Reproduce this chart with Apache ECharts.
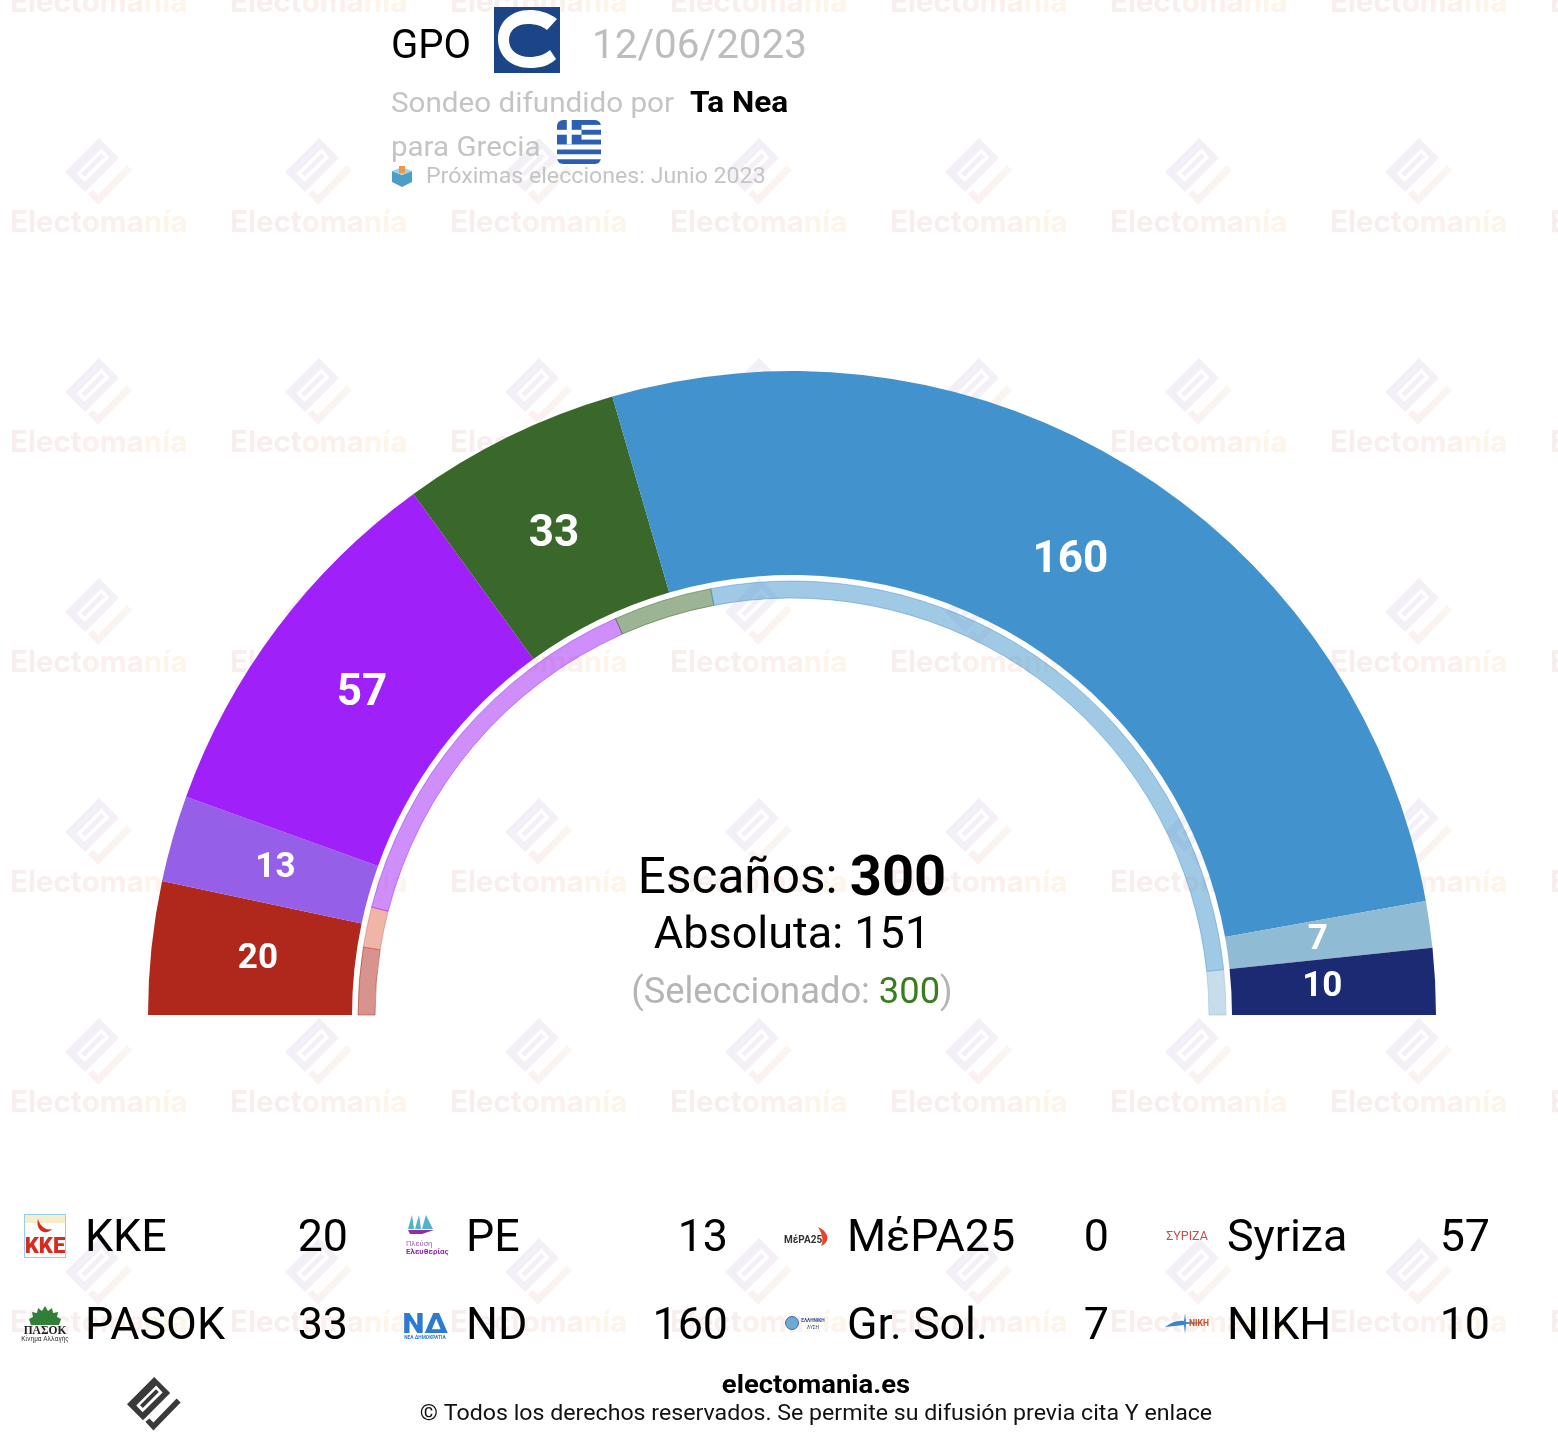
<!DOCTYPE html>
<html><head><meta charset="utf-8">
<style>html,body{margin:0;padding:0;background:#fff}#c{width:1558px;height:1456px}</style>
<script src="https://cdn.jsdelivr.net/npm/echarts@6/dist/echarts.min.js"></script>
</head><body><div id="c"></div>
<script>
// ---- data ----
const parties = ['KKE','PE','MέPA25','Syriza','PASOK','ND','Gr. Sol.','NIKH'];
const seats   = [20,13,0,57,33,160,7,10];
const previousSeats = [15,0,9,86,22,158,10,0];
const colors  = ['#B0281C','#965FE8','#DE6B52','#9F20F8','#3A672A','#4293CD','#90BBD4','#1B2A73'];
const totalSeats = 300, majority = 151, selected = 300;
const pollster = 'GPO', pollDate = '12/06/2023', outlet = 'Ta Nea', country = 'Grecia', nextElection = 'Próximas elecciones: Junio 2023';

const FONT = 'Roboto';
const CX = 792, CY = 1015;

// small path shape for logos
echarts.graphic.registerShape('logoPath', echarts.graphic.extendShape({
  shape:{d:''},
  buildPath(ctx,shape){
    const t = shape.d.match(/[MLCZ]|-?[\d.]+/g); let i=0;
    const n=()=>parseFloat(t[i++]); let cmd='';
    while(i<t.length){
      if(/[MLCZ]/.test(t[i])) cmd=t[i++];
      if(cmd==='M'){ctx.moveTo(n(),n());cmd='L';}
      else if(cmd==='L'){ctx.lineTo(n(),n());}
      else if(cmd==='C'){ctx.bezierCurveTo(n(),n(),n(),n(),n(),n());}
      else if(cmd==='Z'){ctx.closePath();}
    }
  }
}));

const el = [];
const T = (x,y,text,size,fill,o={}) => el.push({type:'text',x,y:y+size*0.09,scaleX:o.sx||1,z:5,silent:true,style:{text,fill,font:`${o.weight||400} ${size}px ${o.family||FONT}`,textAlign:o.align||'left',textVerticalAlign:'middle'}});
const P = (d,fill,x=0,y=0,s=1,z=5) => el.push({type:'logoPath',x,y,scaleX:s,scaleY:s,z,silent:true,shape:{d},style:{fill}});
const R = (x,y,w,h,fill,r=0,z=5) => el.push({type:'rect',z,silent:true,shape:{x,y,width:w,height:h,r},style:{fill}});

// watermark tiles (period 220 px)
const markA = 'M34,0 L54,20 L20,54 L0,34 Z M11.5,35.5 L19.5,44 L44.5,19.5 L36.5,10.5 Z M16.2,35.2 L36.2,15.2 L39.8,18.8 L19.8,38.8 Z';
const markB = 'M62,27 L67,32 L33,67 L23,56 L28,52 L33,57 Z';
const wmA = {type:'linear',x:0,y:0,x2:1,y2:1,colorStops:[{offset:0,color:'#f1eef8'},{offset:1,color:'#f6f1f5'}]};
const wmB = {type:'linear',x:1,y:0,x2:0,y2:1,colorStops:[{offset:0,color:'#faf6f0'},{offset:1,color:'#fbf1f0'}]};
const wmF = '700 29.5px Inter';
for (let c=0;c<8;c++) for (let r=0;r<7;r++){
  const x = 10+220*c, y = 3+220*r;
  el.push({type:'text',x,y,z:0,silent:true,style:{text:'{a|Elect}{b|oma}{c|nía}',textAlign:'left',textVerticalAlign:'middle',
    rich:{a:{font:wmF,fill:'#f9eeee'},b:{font:wmF,fill:'#fbf0ec'},c:{font:wmF,fill:'#fdf4ea'}}}});
  P(markA,wmA,x+55,y-85,1,0); P(markB,wmB,x+55,y-85,1,0);
}

// header
T(391,44,pollster,40,'#000');
R(494,7,66,66,'#1C4587');
P('M557,19 C548,12 538,10 530,10 C510,10 498,23 498,39 C498,56 511,68 530,68 C540,68 549,66 556,59 L550,50 C544,55 537,57 530,57 C517,57 509,50 509,40 C509,30 517,24 528,24 C536,24 542,26 547,30 Z','#fff');
T(592,44,pollDate,40,'#bdbdbd',{sx:1.01});
T(391,102,'Sondeo difundido por',28.5,'#c4c4c4',{sx:1.04});
T(690,102,outlet,29.5,'#000',{weight:700,sx:1.07});
T(391,146,'para '+country,28.5,'#c4c4c4',{sx:1.035});
// flag
R(557,120,44,44,'#2B5FB3',6);
[124.9,134.7].forEach(y=>R(581.5,y,19.5,4.9,'#fff'));
[144.5,154.3].forEach(y=>R(557,y,44,4.9,'#fff'));
R(557,129.8,24.5,4.9,'#fff'); R(566.8,120,4.9,24.5,'#fff');
// ballot box
P('M392,171 L402,175 L412,171 L412,182 L402,187 L392,182 Z','#4F9CC4');
P('M392,171 L402,167 L412,171 L402,175 Z','#9BD3E8');
R(399,166,6,7,'#E89A4A');
T(426,176,nextElection,22,'#c4c4c4',{sx:1.053});

// centre
el.push({type:'text',x:CX,y:881,z:5,silent:true,style:{text:'{a|Escaños: }{b|'+totalSeats+'}',textAlign:'center',textVerticalAlign:'middle',rich:{a:{font:`400 49.5px ${FONT}`,fill:'#000'},b:{font:`700 56px ${FONT}`,fill:'#000'}}}});
T(CX,933,'Absoluta: '+majority,45,'#000',{align:'center'});
el.push({type:'text',x:CX,y:994,z:5,silent:true,style:{text:'{a|(Seleccionado: }{b|'+selected+'}{a|)}',textAlign:'center',textVerticalAlign:'middle',rich:{a:{font:`400 36.3px ${FONT}`,fill:'#b5b5b5'},b:{font:`400 36.3px ${FONT}`,fill:'#3a7d1e'}}}});

// legend
const colX = [85,466,847,1227], valX = [348,728,1109,1490], rowY = [1236,1324];
parties.forEach((p,i)=>{
  const c=i%4, r=Math.floor(i/4);
  T(colX[c],rowY[r],p,44.8,'#000');
  T(valX[c],rowY[r],String(seats[i]),44.8,'#000',{align:'right'});
});
// legend logos
R(24,1214,42,44,'#8fd0f0'); R(25,1215,40,42,'#fff'); R(25,1215,40,8,'#f9ecc8');
T(45,1246,'KKE',22,'#D62B1F',{weight:900,align:'center'});
P('M38,1219 C35,1231 46,1236 52,1229 C46,1231 40,1226 38,1219 Z','#D62B1F');

P('M408,1229 L412,1215 L414,1229 Z M415,1229 L419,1215 L421,1229 Z M422,1229 L426,1215 L433,1229 Z','#4FB3CC');
P('M408,1230 L434,1230 L422,1234 L410,1234 Z','#8E2FA8');
T(406,1243,'Πλεύση',7.5,'#a060b8'); T(406,1251,'Ελευθερίας',8,'#8E2FA8',{weight:700});

T(784,1240,'MέPA25',10,'#333',{weight:700});
P('M818,1227 C830,1232 830,1243 821,1246 C824,1240 822,1234 818,1227 Z','#E8452A');

T(1187,1236,'ΣΥΡΙΖΑ',12.5,'#C8504A',{align:'center'});

P('M45,1306 L48,1311 L52,1308 L53,1313 L58,1312 L57,1317 L61,1319 L59,1325 L31,1325 L29,1319 L33,1317 L32,1312 L37,1313 L38,1308 L42,1311 Z','#2F7F36');
T(45,1330,'ΠΑΣΟΚ',11.5,'#222',{weight:700,align:'center',family:'Liberation Serif'});
T(45,1339,'Κίνημα Αλλαγής',6.5,'#333',{align:'center'});

T(425,1324,'ΝΔ',27,'#2B7BD0',{weight:900,align:'center',sx:1.15});
T(425,1337,'ΝΕΑ ΔΗΜΟΚΡΑΤΙΑ',4.8,'#2B7BD0',{weight:700,align:'center'});

el.push({type:'circle',z:5,silent:true,shape:{cx:792,cy:1323,r:6.5},style:{fill:'#6FA8D0',stroke:'#3D6FA3',lineWidth:1}});
T(813,1320,'ΕΛΛΗΝΙΚΗ',4.8,'#2D4F8C',{weight:700,align:'center'});
T(813,1327,'ΛΥΣΗ',4.8,'#2D4F8C',{align:'center'});

P('M1185,1313 L1186,1322 L1206,1323 L1186,1324 L1185,1334 L1184,1325 L1165,1327 C1172,1322 1178,1320 1184,1321 Z','#3F84C8');
T(1189,1323,'NIKH',8.5,'#C8502A',{weight:700});

// footer
T(816,1384,'electomania.es',26,'#000',{weight:700,align:'center',sx:1.056});
T(816,1413,'© Todos los derechos reservados. Se permite su difusión previa cita Y enlace',22,'#111',{align:'center',sx:1.053});
P(markA,'#3a3a3a',127,1377,0.8); P(markB,'#3a3a3a',127,1377,0.8);

// series
const slice = (arr,alpha) => arr.map((v,i)=>({
  name:parties[i], value:v,
  itemStyle:{color:colors[i],opacity:alpha,borderColor:colors[i],borderWidth:(alpha<1&&v>0)?1:0},
  label:{show:false}
})).concat([{name:'_',value:totalSeats,itemStyle:{color:'transparent',opacity:0,borderWidth:0},label:{show:false}}]);

const pie = (radius,data,cx=CX) => ({
  type:'pie',center:[cx,CY],radius,startAngle:180,clockwise:true,silent:true,animation:false,
  avoidLabelOverlap:false,minShowLabelAngle:0,stillShowZeroSum:false,
  label:{position:'inside',color:'#fff',fontFamily:FONT,fontWeight:700,formatter:'{c}'},
  labelLine:{show:false},data
});
// carrier for the value labels (placed slightly inward of the ring's midline)
const labelData = seats.map((v,i)=>({
  name:parties[i],value:v,itemStyle:{color:'transparent',borderWidth:0},
  label:{show:v>0,fontSize:v>=30?44:35}
})).concat([{name:'_',value:totalSeats,itemStyle:{color:'transparent',borderWidth:0},label:{show:false}}]);

const chart = echarts.init(document.getElementById('c'),null,{renderer:'canvas',width:1558,height:1456});
chart.setOption({
  animation:false,backgroundColor:'#fff',
  graphic:{elements:el},
  series:[pie([440,644],slice(seats,1)),pie([417,434],slice(previousSeats,0.5)),pie([440,622],labelData,CX-3)]
});
</script></body></html>
